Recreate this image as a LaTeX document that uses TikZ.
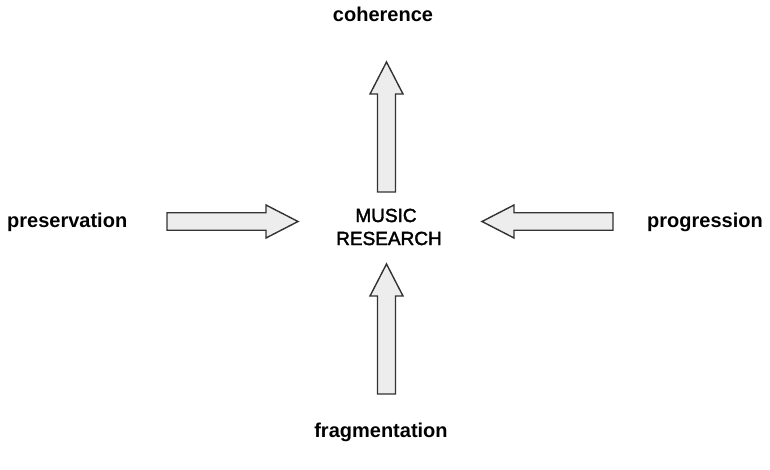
\documentclass[tikz,border=0pt]{standalone}
\usepackage{fontspec}
\setmainfont{Liberation Sans}
\newfontfamily\centrefont[FakeBold=2]{Liberation Sans}
\begin{document}
\begin{tikzpicture}[x=1pt,y=-1pt,
  arrowbody/.style={draw=black!80, fill=black!7, line width=1.4pt, line join=miter},
  label/.style={font=\fontsize{20}{24}\selectfont\bfseries, inner sep=0pt},
  centre/.style={font=\centrefont\fontsize{19}{23}\selectfont, inner sep=0pt}]
\useasboundingbox (0,0) rectangle (770,469);

% labels around the centre
\node[label, anchor=base] (coh) at (383,21) {coherence};
\node[label, anchor=base west] (pres) at (7,227) {preservation};
\node[label, anchor=base east] (prog) at (763,227) {progression};
\node[label, anchor=base] (frag) at (381,437) {fragmentation};

% centre label
\node[centre, anchor=base] (music) at (386,222) {MUSIC};
\node[centre, anchor=base] (research) at (389,245) {RESEARCH};

% block arrows
% up, towards coherence
\draw[arrowbody] (377.5,192) -- (377.5,94) -- (370,94) -- (386.5,62) -- (403,94)
  -- (395.5,94) -- (395.5,192) -- cycle;
% up, from fragmentation
\draw[arrowbody] (377.5,394) -- (377.5,296) -- (370,296) -- (386.5,264) -- (403,296)
  -- (395.5,296) -- (395.5,394) -- cycle;
% right, from preservation
\draw[arrowbody] (167,212.75) -- (266,212.75) -- (266,205) -- (298,221.5) -- (266,238)
  -- (266,230.25) -- (167,230.25) -- cycle;
% left, from progression
\draw[arrowbody] (613,212.75) -- (514,212.75) -- (514,205) -- (482,221.5) -- (514,238)
  -- (514,230.25) -- (613,230.25) -- cycle;
\end{tikzpicture}
\end{document}
